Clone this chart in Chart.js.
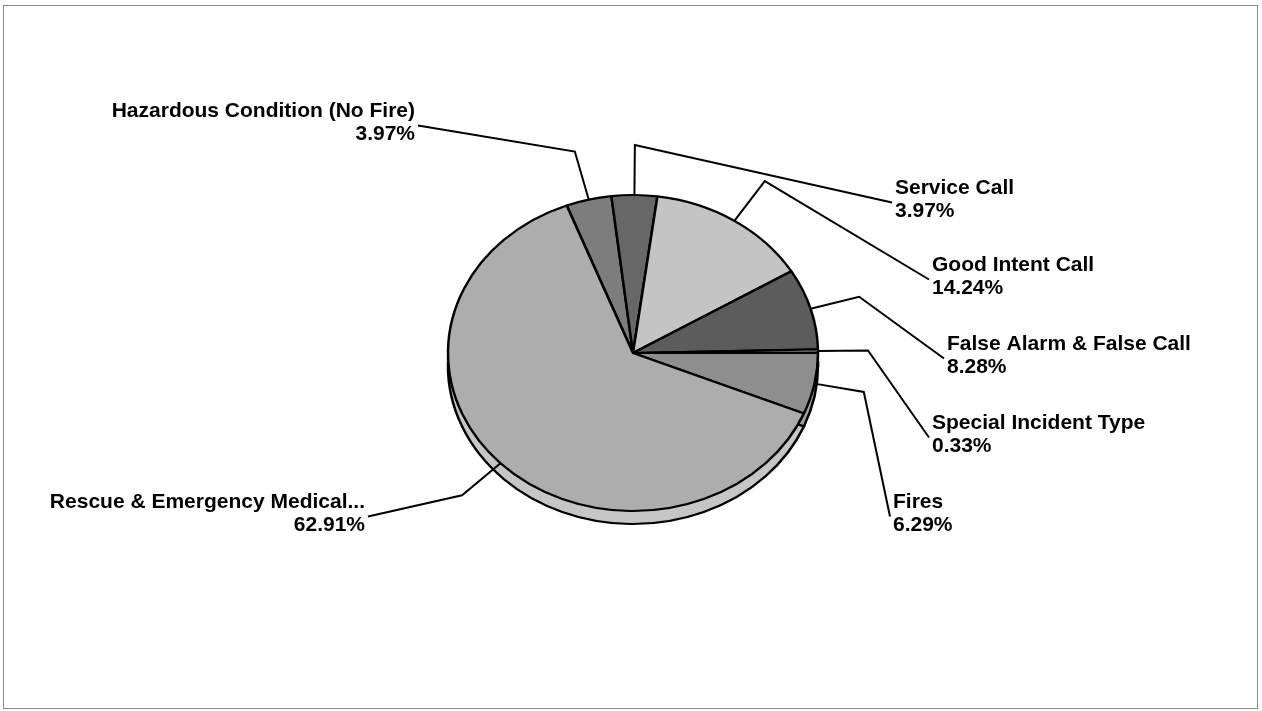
<!DOCTYPE html>
<html>
<head>
<meta charset="utf-8">
<title>Incident Types</title>
<script src="https://cdn.jsdelivr.net/npm/chart.js@4.4.1/dist/chart.umd.min.js"></script>
<style>
  html, body { margin: 0; padding: 0; background: #fff; }
  #wrap { position: relative; width: 1262px; height: 711px; }
</style>
</head>
<body>
<div id="wrap"><canvas id="pie"></canvas></div>
<script>
// values (percent of incidents)
const categories = [
    'Hazardous Condition (No Fire)',
    'Service Call',
    'Good Intent Call',
    'False Alarm & False Call',
    'Special Incident Type',
    'Fires',
    'Rescue & Emergency Medical...'
];
const percents = [3.97, 3.97, 14.24, 8.28, 0.33, 6.29, 62.91];

// greys of the scanned print
const sliceColors = ['#7d7d7d', '#676767', '#c4c4c4', '#5c5c5c', '#ececec', '#8e8e8e', '#adadad'];
const rimColors   = ['#6e6e6e', '#5a5a5a', '#b6b6b6', '#505050', '#dedede', '#9c9c9c', '#c6c6c6'];

// label placement, offset from the pie centre in px
const labelSpots = [
    { dx: -218, dy: -230.5, side: 'left' },
    { dx: 262,  dy: -153.5, side: 'right' },
    { dx: 299,  dy: -76.5,  side: 'right' },
    { dx: 314,  dy: 2.5,    side: 'right' },
    { dx: 299,  dy: 81.5,   side: 'right' },
    { dx: 260,  dy: 160.5,  side: 'right' },
    { dx: -268, dy: 160.5,  side: 'left' }
];

const TILT = 158 / 185;   // vertical squash of the pie
const DEPTH = 13;         // visible thickness of the pie edge

document.addEventListener('DOMContentLoaded', () => {
    if (typeof Chart === 'undefined') {
        console.error('Chart.js not loaded');
        return;
    }

    const tiltPlugin = {
        id: 'tilt',
        beforeDatasetsDraw(chart) {
            const ctx = chart.ctx;
            const arcs = chart.getDatasetMeta(0).data;
            const cy = arcs[0].y;
            ctx.save();
            ctx.translate(0, cy);
            ctx.scale(1, TILT);
            ctx.translate(0, -cy);

            // side wall: the slices pushed down, top surface covers the rest
            const off = DEPTH / TILT;
            arcs.forEach((a, i) => {
                ctx.beginPath();
                ctx.moveTo(a.x, a.y + off);
                ctx.arc(a.x, a.y + off, a.outerRadius, a.startAngle, a.endAngle);
                ctx.closePath();
                ctx.fillStyle = rimColors[i];
                ctx.fill();
                ctx.lineWidth = 2.5;
                ctx.strokeStyle = '#000';
                ctx.stroke();
            });
        },
        afterDatasetsDraw(chart) {
            const ctx = chart.ctx;
            ctx.restore();

            const arcs = chart.getDatasetMeta(0).data;
            const cx = arcs[0].x;
            const cy = arcs[0].y;

            ctx.save();
            ctx.font = 'bold 21px "Liberation Sans", Arial, sans-serif';
            ctx.fillStyle = '#000';
            ctx.strokeStyle = '#000';
            ctx.lineWidth = 2;
            ctx.textBaseline = 'middle';

            arcs.forEach((a, i) => {
                const mid = (a.startAngle + a.endAngle) / 2;
                const r = a.outerRadius;
                const ax = cx + r * Math.cos(mid);
                const ay = cy + r * TILT * Math.sin(mid);
                const len = Math.hypot(ax - cx, ay - cy);
                const ex = ax + (ax - cx) / len * 50;
                const ey = ay + (ay - cy) / len * 50;

                const spot = labelSpots[i];
                const tx = cx + spot.dx;
                const ty = cy + spot.dy;
                const lx = spot.side === 'right' ? tx - 3 : tx + 3;

                ctx.beginPath();
                ctx.moveTo(ax, ay);
                ctx.lineTo(ex, ey);
                ctx.lineTo(lx, ty + 3);
                ctx.stroke();

                ctx.textAlign = spot.side === 'right' ? 'left' : 'right';
                ctx.fillText(categories[i], tx, ty - 11.5);
                ctx.fillText(percents[i].toFixed(2) + '%', tx, ty + 11.5);
            });
            ctx.restore();
        },
        afterDraw(chart) {
            // thin frame round the picture
            const ctx = chart.ctx;
            ctx.save();
            ctx.strokeStyle = '#8a8a8a';
            ctx.lineWidth = 1;
            ctx.strokeRect(3.5, 5.5, 1254, 703);
            ctx.restore();
        }
    };

    new Chart(document.getElementById('pie'), {
        type: 'pie',
        data: {
            labels: categories,
            datasets: [{
                data: percents,
                backgroundColor: sliceColors,
                borderColor: '#000',
                borderWidth: 2.5
            }]
        },
        options: {
            responsive: true,
            maintainAspectRatio: false,
            animation: false,
            events: [],
            rotation: -21,
            radius: 185,
            layout: { padding: { left: 4, right: 0, top: 100, bottom: 105 } },
            plugins: {
                legend: { display: false },
                tooltip: { enabled: false }
            }
        },
        plugins: [tiltPlugin]
    });
});
</script>
</body>
</html>
